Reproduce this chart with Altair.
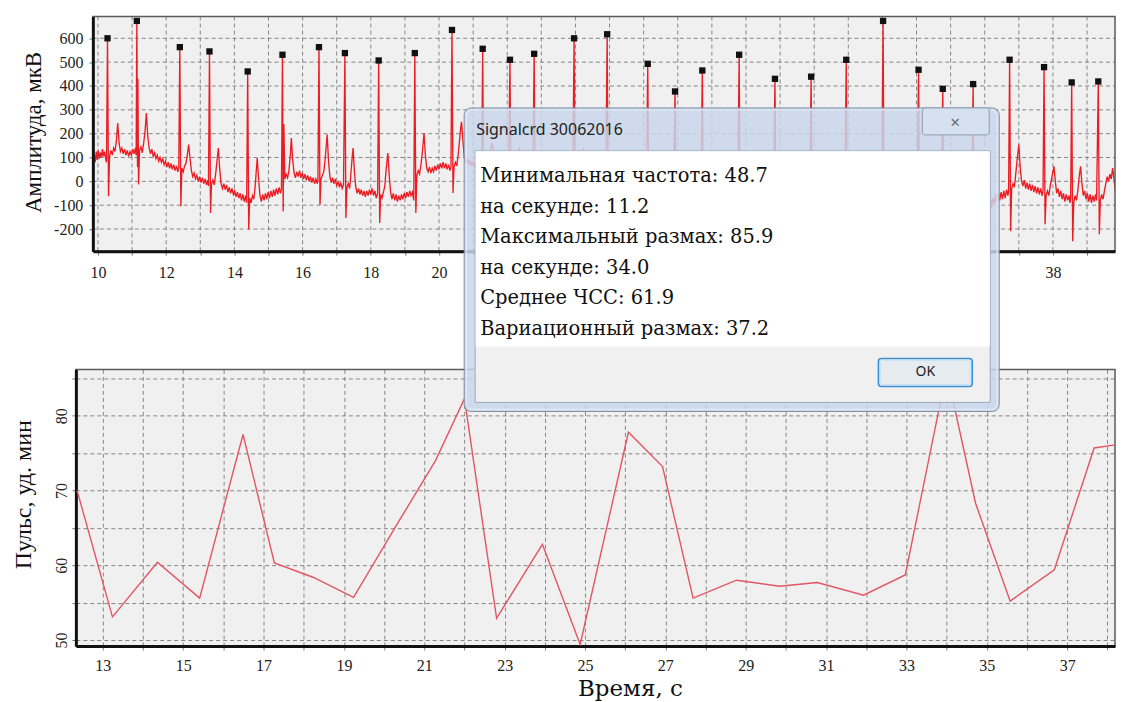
import altair as alt
import pandas as pd

# ---------------- data ----------------
# ECG trace (time s, amplitude uV)
ecg_points = [
    (9.86, 70), (9.89, 115), (9.92, 80), (9.95, 125), (9.98, 90), (10.01, 130), (10.04, 95), (10.07, 120),
    (10.10, 100), (10.13, 135), (10.16, 105), (10.19, 125), (10.22, 100), (10.25, 80),
    (10.28, 600), (10.31, -63), (10.34, 105),
    (10.38, 130), (10.42, 110), (10.46, 140), (10.50, 125), (10.54, 170), (10.58, 244), (10.62, 160), (10.66, 125),
    (10.70, 140), (10.74, 115), (10.78, 135), (10.82, 110), (10.86, 130), (10.90, 105), (10.94, 125), (10.98, 110),
    (11.02, 135), (11.06, 115), (11.10, 140), (11.12, 110),
    (11.14, 673), (11.16, 60), (11.17, 430), (11.19, -13), (11.22, 130),
    (11.26, 145), (11.30, 120), (11.34, 160), (11.38, 210), (11.42, 286), (11.46, 190), (11.50, 140), (11.54, 115),
    (11.58, 135), (11.62, 105), (11.66, 120), (11.70, 95), (11.74, 110), (11.78, 85), (11.82, 100), (11.86, 80),
    (11.90, 95), (11.94, 70), (11.98, 85), (12.02, 60), (12.06, 80), (12.10, 55), (12.14, 75), (12.18, 50),
    (12.22, 70), (12.26, 45), (12.30, 65), (12.34, 40), (12.37, 60),
    (12.40, 563), (12.43, -105), (12.46, 55),
    (12.50, 40), (12.54, 65), (12.58, 75), (12.62, 110), (12.66, 154), (12.70, 95), (12.74, 45), (12.78, 20),
    (12.82, 35), (12.86, 10), (12.90, 25), (12.94, 0), (12.98, 20), (13.02, -5), (13.06, 15), (13.10, -10),
    (13.14, 10), (13.18, -15), (13.22, 5), (13.24, -20),
    (13.27, 545), (13.30, -133), (13.33, -10),
    (13.37, 5), (13.41, -15), (13.45, 30), (13.50, 100), (13.53, 140), (13.57, 50), (13.61, -10), (13.65, -30),
    (13.69, -10), (13.73, -35), (13.77, -15), (13.81, -45), (13.85, -25), (13.89, -50), (13.93, -30), (13.97, -55),
    (14.01, -40), (14.05, -65), (14.09, -45), (14.13, -70), (14.17, -50), (14.21, -80), (14.25, -55), (14.29, -85),
    (14.33, -60), (14.36, -90),
    (14.39, 461), (14.42, -202), (14.45, -70),
    (14.49, -90), (14.53, -60), (14.57, -75), (14.61, -20), (14.64, 40), (14.67, 98), (14.71, 10), (14.75, -60),
    (14.79, -85), (14.83, -55), (14.87, -80), (14.91, -50), (14.95, -75), (14.99, -45), (15.03, -70), (15.07, -40),
    (15.11, -65), (15.15, -35), (15.19, -60), (15.23, -30), (15.27, -55), (15.31, -25), (15.35, -50), (15.38, -30),
    (15.41, 531), (15.43, -126), (15.45, 240), (15.48, 10),
    (15.52, 30), (15.56, 15), (15.60, 45), (15.64, 110), (15.67, 182), (15.71, 90), (15.75, 35), (15.79, 15),
    (15.83, 40), (15.87, 20), (15.91, 45), (15.95, 15), (15.99, 35), (16.03, 10), (16.07, 30), (16.11, 5),
    (16.15, 25), (16.19, 0), (16.23, 20), (16.27, -5), (16.31, 15), (16.35, -10), (16.39, 10), (16.43, -10),
    (16.45, 5),
    (16.48, 563), (16.51, -98), (16.54, 10),
    (16.58, 25), (16.62, 40), (16.66, 90), (16.70, 160), (16.72, 196), (16.76, 85), (16.80, 20), (16.84, -5),
    (16.88, 15), (16.92, -10), (16.96, 10), (17.00, -20), (17.04, 0), (17.08, -25), (17.12, -5), (17.16, -30),
    (17.20, -15),
    (17.24, 538), (17.27, -154), (17.30, -25),
    (17.34, -10), (17.38, -30), (17.42, 40), (17.46, 110), (17.48, 140), (17.52, 40), (17.56, -25), (17.60, -50),
    (17.64, -30), (17.68, -55), (17.72, -35), (17.76, -60), (17.80, -40), (17.84, -65), (17.88, -40), (17.92, -60),
    (17.96, -35), (18.00, -55), (18.04, -30), (18.08, -60), (18.12, -40), (18.16, -70), (18.20, -50),
    (18.23, 507), (18.26, -175), (18.29, -55),
    (18.33, -70), (18.37, -45), (18.41, -20), (18.45, 50), (18.50, 119), (18.54, 25), (18.58, -45), (18.62, -75),
    (18.66, -50), (18.70, -80), (18.74, -55), (18.78, -85), (18.82, -60), (18.86, -80), (18.90, -55), (18.94, -75),
    (18.98, -50), (19.02, -70), (19.06, -45), (19.10, -65), (19.14, -40), (19.18, -60), (19.22, -45), (19.26, -80),
    (19.29, 538), (19.32, -133), (19.35, 25),
    (19.39, 45), (19.43, 30), (19.47, 70), (19.51, 120), (19.56, 202), (19.60, 110), (19.64, 55), (19.68, 40),
    (19.72, 60), (19.76, 35), (19.80, 55), (19.84, 40), (19.88, 65), (19.92, 45), (19.96, 70), (20.00, 50),
    (20.04, 75), (20.08, 55), (20.12, 80), (20.16, 55), (20.20, 75), (20.24, 50), (20.28, 70), (20.32, 45),
    (20.35, 60),
    (20.38, 635), (20.41, -49), (20.44, 60),
    (20.48, 80), (20.52, 65), (20.56, 110), (20.60, 170), (20.64, 230), (20.66, 250), (20.70, 170), (20.74, 100),
    (20.78, 80), (20.82, 95), (20.86, 70), (20.90, 90), (20.94, 65), (20.98, 85), (21.02, 60), (21.06, 80),
    (21.10, 55), (21.14, 75), (21.18, 50), (21.22, 70), (21.25, 45),
    (21.28, 556), (21.31, -60), (21.35, 50), (21.56, 160), (21.66, 45), (21.90, 40), (22.04, 40),
    (22.08, 510), (22.11, -80), (22.15, 30), (22.36, 140), (22.46, 30), (22.75, 30),
    (22.79, 535), (22.82, -90), (22.86, 20), (23.07, 130), (23.17, 20), (23.92, 20),
    (23.96, 600), (23.99, -100), (24.03, 20), (24.24, 140), (24.34, 20), (24.89, 10),
    (24.93, 617), (24.96, -100), (25.00, 10), (25.21, 130), (25.31, 10), (26.08, 0),
    (26.12, 493), (26.15, -110), (26.19, 0), (26.40, 120), (26.50, 0), (26.88, -10),
    (26.92, 377), (26.95, -120), (26.99, -10), (27.20, 100), (27.30, -10), (27.68, -10),
    (27.72, 465), (27.75, -120), (27.79, -10), (28.00, 110), (28.10, -10), (28.76, -20),
    (28.80, 531), (28.83, -130), (28.87, -20), (29.08, 100), (29.18, -20), (29.81, -20),
    (29.85, 430), (29.88, -130), (29.92, -20), (30.13, 100), (30.23, -20), (30.87, -30),
    (30.91, 439), (30.94, -140), (30.98, -30), (31.19, 90), (31.29, -30), (31.90, -30),
    (31.94, 510), (31.97, -150), (32.01, -30), (32.22, 90), (32.32, -30), (32.98, -30),
    (33.02, 673), (33.05, -160), (33.09, -30), (33.30, 100), (33.40, -30), (34.02, -40),
    (34.06, 468), (34.09, -170), (34.13, -40), (34.34, 90), (34.44, -40), (34.73, -40),
    (34.77, 388), (34.80, -180), (34.84, -40), (35.05, 90), (35.15, -40), (35.62, -50),
    (35.66, 408), (35.69, -200), (35.73, -50), (35.94, 80), (36.04, -50),
    (36.08, -70), (36.12, -100), (36.16, -60), (36.20, -110), (36.24, -70), (36.28, -95), (36.32, -55), (36.36, -85),
    (36.40, -50), (36.44, -80), (36.48, -45), (36.52, -75), (36.56, -40), (36.60, -70), (36.64, -35), (36.68, -60),
    (36.70, -40),
    (36.73, 510), (36.76, -209), (36.79, -30),
    (36.83, -10), (36.87, -25), (36.91, 30), (36.95, 90), (37.00, 154), (37.04, 60), (37.08, 0), (37.12, -20),
    (37.16, 5), (37.20, -30), (37.24, -5), (37.28, -35), (37.32, -10), (37.36, -40), (37.40, -15), (37.44, -45),
    (37.48, -20), (37.52, -50), (37.56, -25), (37.60, -55), (37.64, -30), (37.68, -60), (37.71, -40),
    (37.74, 479), (37.77, -180), (37.80, -60),
    (37.84, -40), (37.88, -60), (37.92, -20), (37.96, 10), (38.00, 40), (38.03, 63), (38.07, 0), (38.11, -50),
    (38.15, -30), (38.19, -65), (38.23, -40), (38.27, -75), (38.31, -50), (38.35, -85), (38.39, -55), (38.43, -80),
    (38.47, -60), (38.50, -90), (38.52, -70),
    (38.55, 415), (38.58, -251), (38.61, -90),
    (38.65, -60), (38.69, -80), (38.73, -40), (38.77, 20), (38.81, 63), (38.85, -10), (38.89, -60), (38.93, -40),
    (38.97, -75), (39.01, -50), (39.05, -85), (39.09, -55), (39.13, -90), (39.17, -60), (39.21, -85), (39.25, -55),
    (39.28, -80),
    (39.33, 419), (39.36, -222), (39.39, -80),
    (39.43, -55), (39.47, -75), (39.51, -40), (39.55, -10), (39.59, 20), (39.63, 0), (39.67, 30), (39.71, 10),
    (39.75, 56), (39.79, 10), (39.83, -40), (39.87, -60), (39.91, -35), (39.95, -65), (39.99, -40), (40.03, -70),
    (40.07, -45),
]

# detected R peaks (black squares)
peak_t = [10.28, 11.14, 12.40, 13.27, 14.39, 15.41, 16.48, 17.24, 18.23, 19.29, 20.38, 21.28, 22.08, 22.79,
          23.96, 24.93, 26.12, 26.92, 27.72, 28.80, 29.85, 30.91, 31.94, 33.02, 34.06, 34.77, 35.66, 36.73,
          37.74, 38.55, 39.33]
peak_v = [600, 673, 563, 545, 461, 531, 563, 538, 507, 538, 635, 556, 510, 535,
          600, 617, 493, 377, 465, 531, 430, 439, 510, 673, 468, 388, 408, 510,
          479, 415, 419]

# pulse (bpm) at each beat
pulse_t = [12.36, 13.24, 14.36, 15.41, 16.49, 17.27, 18.23, 19.24, 20.38, 21.28, 22.00, 22.80, 23.94, 24.88,
           26.08, 26.93, 27.69, 28.77, 29.84, 30.78, 31.93, 32.97, 34.00, 34.72, 35.58, 36.68, 37.67, 38.55]
pulse_v = [70.0, 53.1, 60.4, 55.6, 77.5, 60.3, 58.4, 55.7, 66.0, 74.0, 82.3, 52.9, 62.8, 49.4,
           77.8, 73.2, 55.6, 58.0, 57.2, 57.7, 56.0, 58.7, 85.9, 68.3, 55.2, 59.4, 75.7, 76.4]

top_x_ticks = list(range(10, 40))
top_x_labels = [10, 12, 14, 16, 18, 20, 38]      # the others are hidden by the message window
top_y_ticks = [-200, -100, 0, 100, 200, 300, 400, 500, 600]
bot_x_ticks = list(range(13, 39))
bot_y_ticks = [50, 55, 60, 65, 70, 75, 80, 85]

top_y_title = "Амплитуда, мкВ"
bot_y_title = "Пульс, уд. мин"
bot_x_title = "Время, с"

dialog_title = "Signalcrd 30062016"
dialog_lines = [
    "Минимальная частота: 48.7",
    "на секунде: 11.2",
    "Максимальный размах: 85.9",
    "на секунде: 34.0",
    "Среднее ЧСС: 61.9",
    "Вариационный размах: 37.2",
]
ok_label = "OK"

# ---------------- chart ----------------
ecg_df = pd.DataFrame(ecg_points, columns=["t", "v"])
peaks_df = pd.DataFrame({"t": peak_t, "v": peak_v})
pulse_df = pd.DataFrame({"t": pulse_t, "v": pulse_v})
vgrid_df = pd.DataFrame({"t": top_x_ticks})
hgrid_df = pd.DataFrame({"v": top_y_ticks})
one = pd.DataFrame({"k": [0]})

SERIF = "Liberation Serif"
WIDE_SERIF = "DejaVu Serif"
SANS = "Noto Sans"
PANEL_W = 1041          # common panel width (both panels share the same origin)
SHIFT = 17              # the upper plot starts 17 px to the right of the lower one
TOP_H, BOT_H = 235, 277
GRID = "#7a7a7a"

axis_common = dict(tickSize=4, tickColor="#777", tickCount=200, domainColor="#111", domainWidth=3,
                   labelFont=SERIF, labelFontSize=16, labelColor="#222",
                   labelOverlap=False, labelFlush=False)

shown = "[" + ",".join(str(v) for v in top_x_labels) + "]"

# ---- upper panel: ECG with R peaks ----
top_x_axis = alt.Axis(values=top_x_ticks, grid=False, zindex=1,
                      labelExpr="indexof(" + shown + ", datum.value) >= 0 ? '' + datum.value : ''",
                      labelPadding=9, title=None, **axis_common)
top_y_axis = alt.Axis(values=top_y_ticks, grid=False, zindex=1, offset=-SHIFT,
                      labelExpr="'' + datum.value", labelPadding=6,
                      title=top_y_title, titleFont=SERIF, titleFontSize=23, titleFontWeight="normal",
                      titleColor="#111", titleAngle=270, titleX=-59, titleY=115.5,
                      titleAlign="center", titleBaseline="middle", **axis_common)

top_bg = alt.Chart(one).mark_rect(fill="#f0f0f0").encode(
    x=alt.value(SHIFT), x2=alt.value(PANEL_W), y=alt.value(0), y2=alt.value(TOP_H))
top_vgrid = alt.Chart(vgrid_df).mark_rule(color=GRID, strokeDash=[4, 3], strokeWidth=1, opacity=0.9).encode(
    x="t:Q", y=alt.value(0), y2=alt.value(TOP_H))
top_hgrid = alt.Chart(hgrid_df).mark_rule(color=GRID, strokeDash=[4, 3], strokeWidth=1, opacity=0.9).encode(
    y="v:Q", x=alt.value(SHIFT), x2=alt.value(PANEL_W))
ecg_line = alt.Chart(ecg_df).mark_line(color="#ec1c24", strokeWidth=1.35, clip=True).encode(
    x=alt.X("t:Q", scale=alt.Scale(domain=[9.85, 39.82], range=[SHIFT, PANEL_W], nice=False, zero=False),
            axis=top_x_axis),
    y=alt.Y("v:Q", scale=alt.Scale(domain=[-293, 691], nice=False, zero=False), axis=top_y_axis),
)
peak_marks = alt.Chart(peaks_df).mark_square(color="#111111", size=40, opacity=1).encode(x="t:Q", y="v:Q")
top_border = alt.Chart(one).mark_rect(filled=False, stroke="#5a5a5a", strokeWidth=1.5).encode(
    x=alt.value(SHIFT), x2=alt.value(PANEL_W), y=alt.value(0), y2=alt.value(TOP_H))
top_spacer = alt.Chart(one).mark_rect(opacity=0).encode(
    x=alt.value(200), x2=alt.value(201), y=alt.value(-7), y2=alt.value(300))

top = alt.layer(top_bg, top_vgrid, top_hgrid, ecg_line, peak_marks, top_border, top_spacer).properties(
    width=PANEL_W, height=TOP_H,
    view=alt.ViewBackground(fill="transparent", stroke="transparent"),
)

# ---- lower panel: pulse ----
grid_common = dict(grid=True, gridColor=GRID, gridDash=[4, 3], gridWidth=1, gridOpacity=0.9)
bot_x_axis = alt.Axis(values=bot_x_ticks, labelExpr="datum.value % 2 == 1 ? '' + datum.value : ''",
                      labelPadding=8, title=bot_x_title, titleFont=WIDE_SERIF, titleFontSize=23,
                      titleFontWeight="normal", titleColor="#111", titleX=555, titleY=42.5,
                      titleAlign="center", titleBaseline="middle", **grid_common, **axis_common)
bot_y_axis = alt.Axis(values=bot_y_ticks, labelExpr="datum.value % 10 == 0 ? '' + datum.value : ''",
                      labelAngle=270, labelAlign="center", labelBaseline="bottom", labelPadding=2,
                      title=bot_y_title, titleFont=SERIF, titleFontSize=24, titleFontWeight="normal",
                      titleColor="#111", titleAngle=270, titleX=-52, titleY=125,
                      titleAlign="center", titleBaseline="middle", **grid_common, **axis_common)

pulse_line = alt.Chart(pulse_df).mark_line(color="#e25563", strokeWidth=1.4, clip=True).encode(
    x=alt.X("t:Q", scale=alt.Scale(domain=[12.33, 38.19], nice=False, zero=False), axis=bot_x_axis),
    y=alt.Y("v:Q", scale=alt.Scale(domain=[49.2, 86.2], nice=False, zero=False), axis=bot_y_axis),
)
bot_spacer = alt.Chart(one).mark_rect(opacity=0).encode(
    x=alt.value(-67), x2=alt.value(-66), y=alt.value(100), y2=alt.value(101))


def box(x1, x2, y1, y2, **kw):
    return alt.Chart(one).mark_rect(**kw).encode(
        x=alt.value(x1), x2=alt.value(x2), y=alt.value(y1), y2=alt.value(y2))


def label(txt, x, y, **kw):
    return alt.Chart(one).mark_text(**kw).encode(x=alt.value(x), y=alt.value(y), text=alt.value(txt))


# message window (coordinates relative to the lower plot origin)
dialog = [
    box(389, 925, -262, 42, fill="#c8d7eb", fillOpacity=0.84, stroke="#7b8ca4", strokeWidth=1, cornerRadius=7),
    box(391, 923, -260, 40, filled=False, stroke="#e9f0f9", strokeWidth=1, cornerRadius=6),
    box(848, 915, -262, -235, fill="#d6e1ef", stroke="#8e9db4", strokeWidth=1, cornerRadius=3),
    label("✕", 881, -247, font="DejaVu Sans", fontSize=13, color="#707070", align="center", baseline="middle"),
    label(dialog_title, 401, -240, font=SANS, fontSize=16, color="#222", align="left", baseline="middle"),
    box(400, 916, -219, 33, fill="#f0f0f0", stroke="#9aa9bd", strokeWidth=1),
    box(400.5, 915.5, -218.5, -23, fill="#ffffff"),
    box(804, 898, -11, 17, fill="#e6ebf0", stroke="#3d8fd1", strokeWidth=1.6, cornerRadius=3),
    box(806, 896, -9, 15, filled=False, stroke="#c4e4f7", strokeWidth=1, cornerRadius=2),
    label(ok_label, 851, 3, font=SANS, fontSize=14, color="#1b1b1b", align="center", baseline="middle"),
]
for i, line in enumerate(dialog_lines):
    dialog.append(label(line, 405, -193.5 + 30.5 * i, font=WIDE_SERIF, fontSize=19.5, color="#111",
                        align="left", baseline="middle"))

bottom = alt.layer(pulse_line, bot_spacer, *dialog).properties(width=PANEL_W, height=BOT_H)

chart = alt.vconcat(top, bottom, spacing=-211.5).properties(
    padding={"left": 0, "top": 0, "right": 0, "bottom": 0},
    background="#ffffff",
).configure_view(fill="#f0f0f0", stroke="#5a5a5a", strokeWidth=1.5)

chart.save("out.html", embed_options={"renderer": "svg", "actions": False})
